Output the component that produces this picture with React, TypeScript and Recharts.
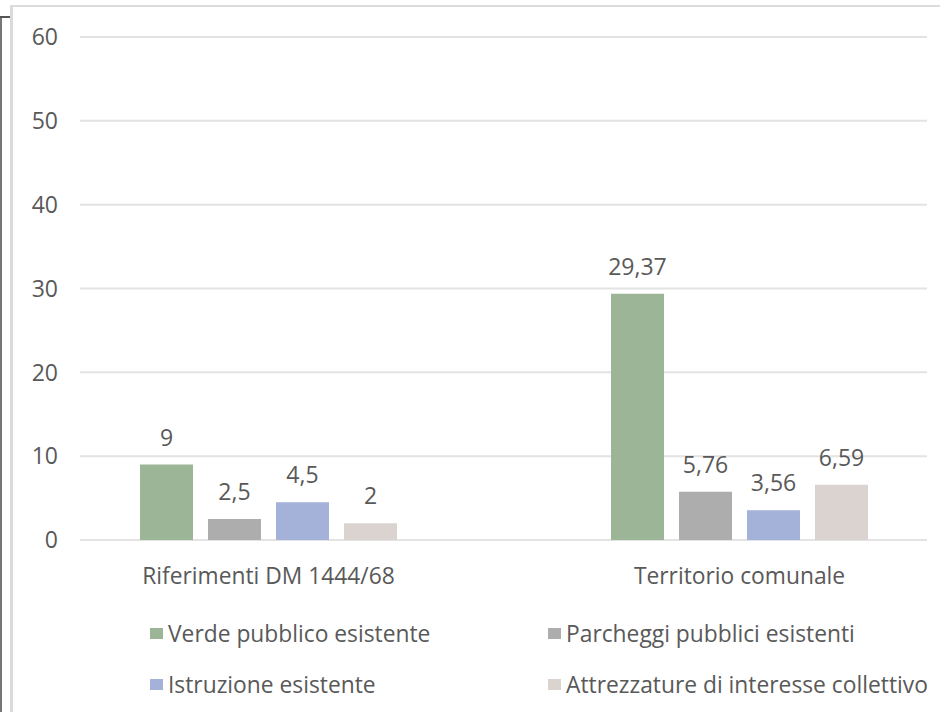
import React from "react";
import { BarChart, Bar, XAxis, YAxis, CartesianGrid, LabelList, Legend } from "recharts";

const categories = ["Riferimenti DM 1444/68", "Territorio comunale"];
const verdePubblico = [9, 29.37];
const parcheggiPubblici = [2.5, 5.76];
const istruzione = [4.5, 3.56];
const attrezzature = [2, 6.59];
const yTicks = [0, 10, 20, 30, 40, 50, 60];

const seriesNames = [
  "Verde pubblico esistente",
  "Parcheggi pubblici esistenti",
  "Istruzione esistente",
  "Attrezzature di interesse collettivo",
];
const seriesKeys = ["verde", "parcheggi", "istruzione", "attrezzature"];
const seriesColors = ["#9db597", "#adadad", "#a4b2da", "#dbd3cf"];

const data = categories.map((c, i) => ({
  name: c,
  verde: verdePubblico[i],
  parcheggi: parcheggiPubblici[i],
  istruzione: istruzione[i],
  attrezzature: attrezzature[i],
}));

const FONT = "'Open Sans', sans-serif";
const TEXT = "#595959";

const fmt = (v: any) => String(v).replace(".", ",");

const YTick = (props: any) => {
  const { y, payload } = props;
  return (
    <text x={58} y={y} dy="0.36em" textAnchor="end" fill={TEXT} fontSize={23} fontFamily={FONT}>
      {payload.value}
    </text>
  );
};

const GridLine = (props: any) => (
  <line key={props.key} x1={80} x2={927} y1={props.y1} y2={props.y2} stroke="#e3e3e3" strokeWidth={2} />
);

const LegendContent = (props: any) => {
  const payload = [...(props.payload || [])].sort(
    (a: any, b: any) => seriesNames.indexOf(a.value) - seriesNames.indexOf(b.value)
  );
  const pos = [
    { x: 150, y: 633 },
    { x: 548, y: 633 },
    { x: 150, y: 684 },
    { x: 548, y: 684 },
  ];
  return (
    <div style={{ position: "relative", width: 0, height: 0 }}>
      {payload.map((e: any, i: number) => (
        <div
          key={i}
          style={{
            position: "absolute",
            left: pos[i].x,
            top: pos[i].y - 16,
            height: 32,
            display: "flex",
            alignItems: "center",
            whiteSpace: "nowrap",
            fontFamily: FONT,
            fontSize: 22.8,
            color: TEXT,
          }}
        >
          <span style={{ display: "inline-block", width: 13, height: 11, background: e.color, marginRight: 5 }} />
          <span>{e.value}</span>
        </div>
      ))}
    </div>
  );
};

export default function App() {
  return (
    <div style={{ position: "absolute", left: 0, top: 0, width: 940, height: 712, overflow: "hidden", background: "#fff" }}>
      <div style={{ position: "absolute", left: 0, top: 16, width: 2, height: 700, background: "#777" }} />
      <div style={{ position: "absolute", left: 0, top: 16, width: 11, height: 2, background: "#555" }} />
      <div style={{ position: "absolute", left: 10, top: 5, width: 3, height: 707, background: "#dadada" }} />
      <div style={{ position: "absolute", left: 10, top: 5, width: 930, height: 2, background: "#dcdcdc" }} />
      <div style={{ position: "absolute", left: 0, top: 0 }}>
        <BarChart
          width={975}
          height={712}
          data={data}
          margin={{ top: 37, right: 0, bottom: 142, left: 0 }}
          barGap={15}
          barSize={53}
        >
          <CartesianGrid vertical={false} horizontal={GridLine} />
          <XAxis
            dataKey="name"
            height={30}
            axisLine={false}
            tickLine={false}
            tickMargin={22}
            tick={{ fill: TEXT, fontSize: 22.8, fontFamily: FONT }}
            interval={0}
          />
          <YAxis
            width={33}
            domain={[0, 60]}
            ticks={yTicks}
            axisLine={false}
            tickLine={false}
            tick={<YTick />}
          />
          <Legend
            content={<LegendContent />}
            wrapperStyle={{ position: "absolute", left: 0, top: 0, width: 0, height: 0 }}
          />
          {seriesKeys.map((k, i) => (
            <Bar key={k} dataKey={k} name={seriesNames[i]} fill={seriesColors[i]} isAnimationActive={false}>
              <LabelList
                dataKey={k}
                position="top"
                offset={19}
                formatter={fmt}
                fill={TEXT}
                fontSize={23}
                fontFamily={FONT}
              />
            </Bar>
          ))}
        </BarChart>
      </div>
    </div>
  );
}
